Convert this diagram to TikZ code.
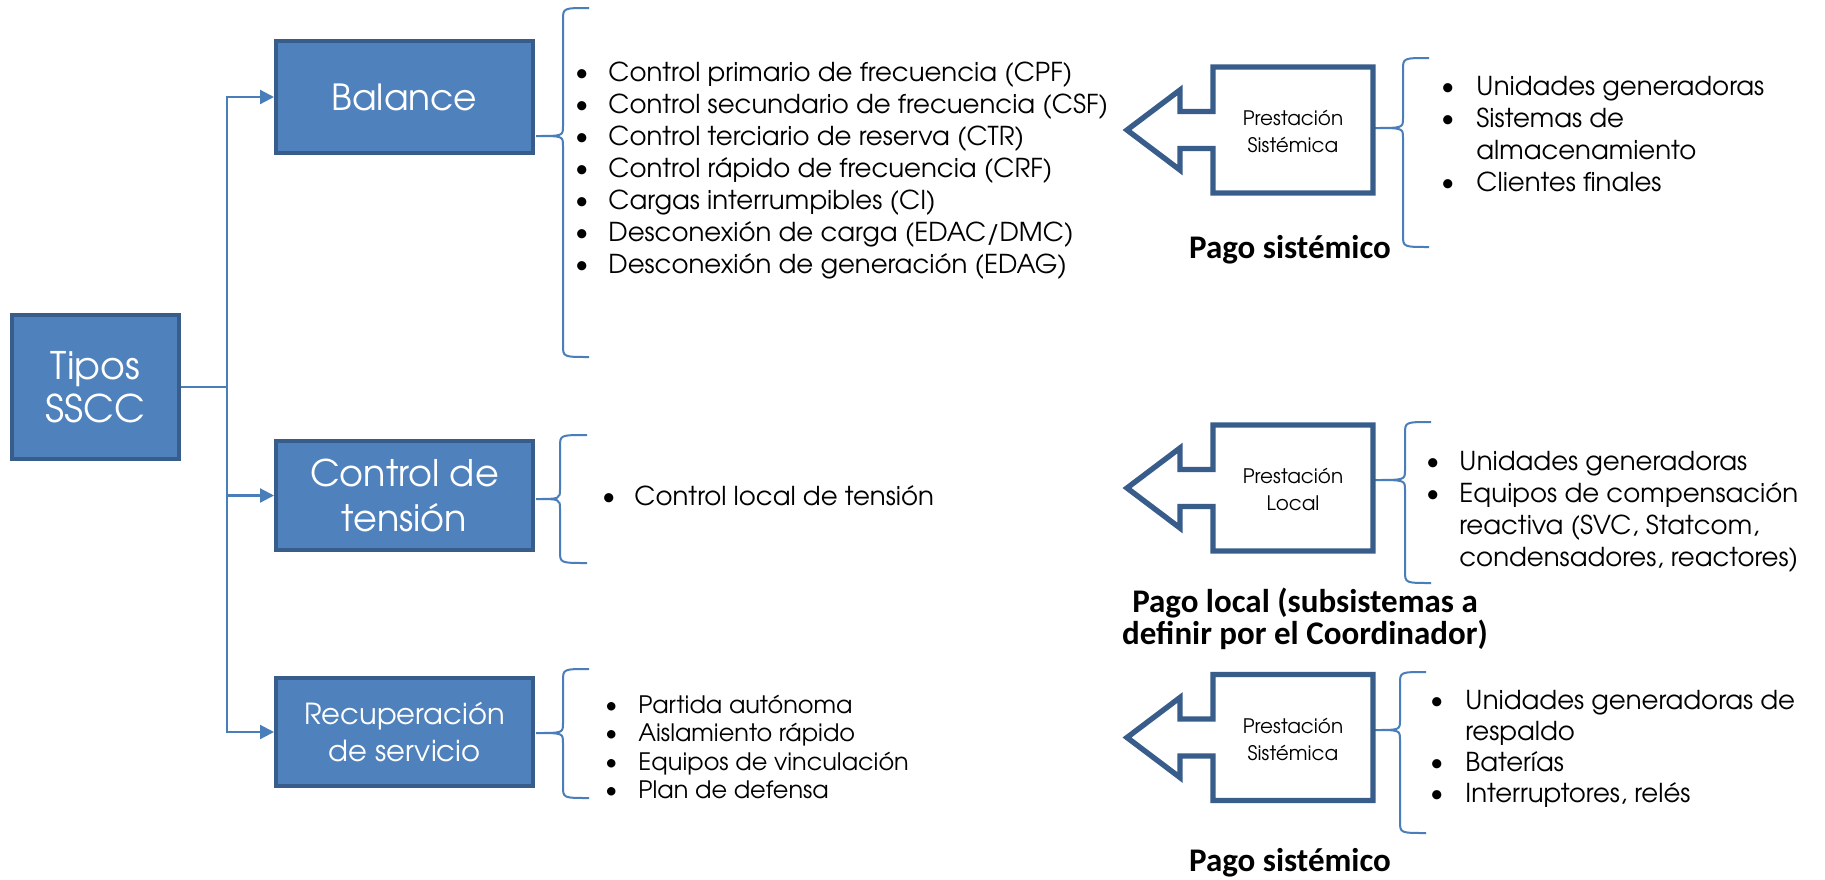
\documentclass[tikz,border=0pt]{standalone}
\usepackage{fontspec}
\newfontfamily\cg{TeX Gyre Adventor}
\newfontfamily\cb{Carlito}
\usetikzlibrary{arrows.meta}
\definecolor{bfill}{HTML}{4F81BD}
\definecolor{bdraw}{HTML}{385D8A}
\definecolor{lblue}{HTML}{4A7EBB}
\tikzset{
  box/.style={draw=bdraw, fill=bfill, line width=2pt, text=white, align=center, inner sep=0pt},
  conn/.style={draw=lblue, line width=1.1pt},
  brc/.style={draw=lblue, line width=1pt},
  blk/.style={draw=bdraw, line width=2.7pt, line join=miter},
  lst/.style={anchor=west, align=left, inner sep=0pt, font=\cg\fontsize{13}{16}\selectfont},
  prest/.style={align=center, inner sep=0pt, font=\cg\fontsize{10}{13.5}\selectfont},
  pago/.style={align=center, inner sep=0pt, font=\cb\bfseries\fontsize{16.5}{16}\selectfont},
  arrtip/.style={-{Triangle[length=7pt,width=7pt]}},
}
\newcommand\mybrace[6]{% xtip ytip xv ytop ybot xend
  \draw[brc] (#6,#4) .. controls (#3,#4) .. (#3,#4+12) -- (#3,#2-10)
    .. controls (#3,#2) .. (#1,#2) .. controls (#3,#2) .. (#3,#2+10)
    -- (#3,#5-12) .. controls (#3,#5) .. (#6,#5);}
\newcommand\blkarrow[1]{%
  \draw[blk] (1127,#1) -- (1180,#1-40) -- (1180,#1-18.5) -- (1213,#1-18.5) -- (1213,#1-63)
    -- (1373,#1-63) -- (1373,#1+63) -- (1213,#1+63) -- (1213,#1+18.5) -- (1180,#1+18.5)
    -- (1180,#1+40) -- cycle;}
\newcommand\bl[1]{\makebox[#1][l]{{\cb\textbullet}}}
\begin{document}
\begin{tikzpicture}[x=0.5pt,y=-0.5pt]
\fill[white] (0,0) rectangle (1825,879);
\useasboundingbox (0,0) rectangle (1825,879);

% main boxes
\node[box, minimum width=83.5pt, minimum height=72pt, font=\cg\fontsize{19}{21.5}\selectfont] (tipos) at (95.5,387) {Tipos\\SSCC};
\node[box, minimum width=128.5pt, minimum height=56pt, font=\cg\fontsize{18}{22.5}\selectfont] (balance) at (404.5,97) {Balance};
\node[box, minimum width=128.5pt, minimum height=54.5pt, font=\cg\fontsize{18.3}{22.5}\selectfont] (control) at (404.5,495.5) {Control de\\tensión};
\node[box, minimum width=128.5pt, minimum height=54pt, font=\cg\fontsize{14.5}{18.5}\selectfont] (recup) at (404.5,732) {Recuperación\\de servicio};

% connectors
\coordinate (tr) at (227,387);
\draw[conn] (tipos.east) -- (tr);
\draw[conn, arrtip] (tr) |- (balance.west);
\draw[conn, arrtip] (tr) |- (control.west);
\draw[conn, arrtip] (tr) |- (recup.west);

% braces
\mybrace{536}{136}{563}{8}{357}{589}
\mybrace{536}{499}{560}{435}{563}{587}
\mybrace{536}{733}{563}{669}{798}{589}
\mybrace{1374}{128}{1403}{58}{247}{1429}
\mybrace{1374}{480}{1405}{422}{583}{1431}
\mybrace{1374}{730}{1400}{672}{833}{1426}

% lists
\node[lst] (l1) at (575,171) {\bl{16.5pt}Control primario de frecuencia (CPF)\\
\bl{16.5pt}Control secundario de frecuencia (CSF)\\
\bl{16.5pt}Control terciario de reserva (CTR)\\
\bl{16.5pt}Control rápido de frecuencia (CRF)\\
\bl{16.5pt}Cargas interrumpibles (CI)\\
\bl{16.5pt}Desconexión de carga (EDAC/DMC)\\
\bl{16.5pt}Desconexión de generación (EDAG)};
\node[lst] (l2) at (602,496) {\bl{16pt}Control local de tensión};
\node[lst, font=\cg\fontsize{12}{14.3}\selectfont] (l3) at (605,747) {\bl{16.5pt}Partida autónoma\\
\bl{16.5pt}Aislamiento rápido\\
\bl{16.5pt}Equipos de vinculación\\
\bl{16.5pt}Plan de defensa};

% right side
\blkarrow{130}
\blkarrow{488}
\blkarrow{737.5}
\node[prest] (p1) at (1293,131.5) {Prestación\\Sistémica};
\node[prest] (p2) at (1293,489.5) {Prestación\\Local};
\node[prest] (p3) at (1293,739.5) {Prestación\\Sistémica};

\node[lst] (r1) at (1441,134.5) {\bl{17.5pt}Unidades generadoras\\
\bl{17.5pt}Sistemas de\\
\hspace*{17.5pt}almacenamiento\\
\bl{17.5pt}Clientes finales};
\node[lst] (r2) at (1426,511.5) {\bl{16.5pt}Unidades generadoras\\
\bl{16.5pt}Equipos de compensación\\
\hspace*{16.5pt}reactiva (SVC, Statcom,\\
\hspace*{16.5pt}condensadores, reactores)};
\node[lst, font=\cg\fontsize{13}{15.4}\selectfont] (r3) at (1430,749) {\bl{17.5pt}Unidades generadoras de\\
\hspace*{17.5pt}respaldo\\
\bl{17.5pt}Baterías\\
\bl{17.5pt}Interruptores, relés};

\node[pago] (g1) at (1290,250) {Pago sistémico};
\node[pago] (g2) at (1305,619) {Pago local (subsistemas a\\definir por el Coordinador)};
\node[pago] (g3) at (1290,863) {Pago sistémico};
\end{tikzpicture}
\end{document}
